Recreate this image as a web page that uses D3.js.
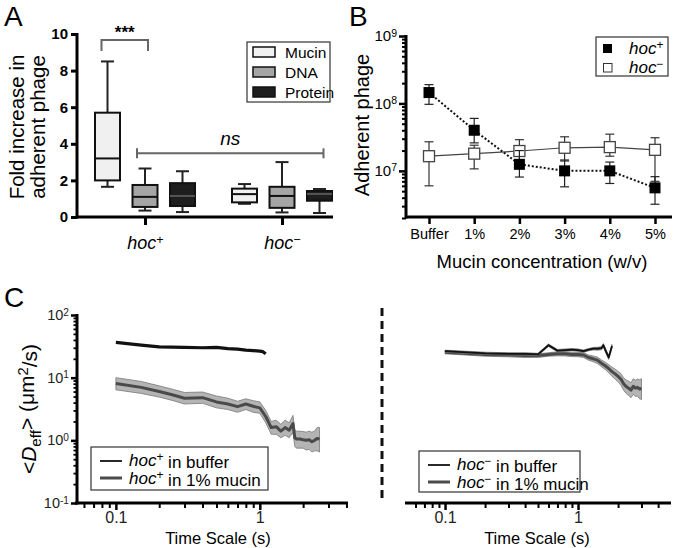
<!DOCTYPE html>
<html><head><meta charset="utf-8">
<script src="https://cdn.jsdelivr.net/npm/d3@7"></script>
<style>body{margin:0;background:#fff} svg{font-family:"Liberation Sans",Arial,Helvetica,sans-serif}</style>
</head><body><svg id="c" width="680" height="548"></svg>
<script>
// ---------- Panel A data ----------
const boxGroups = ["hoc+", "hoc−"];
const boxSeries = ["Mucin", "DNA", "Protein"];
const boxMin = [[1.65, 0.35, 0.27], [0.72, 0.25, 0.22]];
const boxQ1  = [[2.0, 0.55, 0.6],  [0.8, 0.5, 0.89]];
const boxMed = [[3.2, 1.1, 1.15],  [1.25, 1.15, 1.26]];
const boxQ3  = [[5.7, 1.75, 1.85], [1.55, 1.65, 1.42]];
const boxMax = [[8.5, 2.65, 2.5],  [1.8, 3.0, 1.53]];
const aTicks = [0, 2, 4, 6, 8, 10];

// ---------- Panel B data ----------
const concentrations = ["Buffer", "1%", "2%", "3%", "4%", "5%"];
const hocPlusMean  = [1.45e8, 4.0e7, 1.25e7, 1.0e7, 1.0e7, 5.6e6];
const hocPlusLow   = [9.7e7, 2.6e7, 8.1e6, 5.8e6, 6.5e6, 3.2e6];
const hocPlusHigh  = [1.9e8, 6.0e7, 2.0e7, 1.45e7, 1.35e7, 8.2e6];
const hocMinusMean = [1.65e7, 1.8e7, 1.97e7, 2.2e7, 2.25e7, 2.05e7];
const hocMinusLow  = [6.0e6, 1.07e7, 1.4e7, 1.4e7, 1.65e7, 7.0e6];
const hocMinusHigh = [2.7e7, 2.4e7, 2.9e7, 3.2e7, 3.5e7, 3.1e7];
const bMajor = [7, 8, 9];

// ---------- Panel C data ----------
const tPlusBuffer = [0.1, 0.15, 0.2, 0.3, 0.4, 0.5, 0.6, 0.7, 0.8, 0.9, 1.0, 1.05, 1.1];
const dPlusBuffer = [36.5, 33, 31, 30.5, 30, 30.5, 29, 28.5, 27.5, 27, 26.5, 26, 24];
const tPlusMucin = [0.1, 0.15, 0.2, 0.25, 0.3, 0.4, 0.5, 0.6, 0.7, 0.8, 0.9, 1.0, 1.1, 1.2, 1.3, 1.4, 1.5, 1.6, 1.7, 1.75, 1.8, 1.9, 2.0, 2.1, 2.2, 2.3, 2.4, 2.5, 2.6];
const dPlusMucin = [8.1, 7.0, 6.0, 5.3, 4.7, 4.8, 4.1, 3.8, 3.45, 3.8, 3.5, 3.3, 2.4, 1.6, 1.65, 1.4, 1.6, 1.45, 1.85, 1.1, 1.05, 1.05, 1.02, 1.0, 1.02, 0.95, 1.0, 1.07, 1.05];
const loPlusMucin = [6.4, 5.6, 4.9, 4.3, 3.8, 3.9, 3.3, 3.1, 2.8, 3.1, 2.8, 2.7, 1.9, 1.25, 1.25, 1.1, 1.2, 1.1, 1.35, 0.8, 0.75, 0.75, 0.75, 0.7, 0.72, 0.65, 0.68, 0.68, 0.65];
const hiPlusMucin = [10.0, 8.7, 7.4, 6.5, 5.8, 5.9, 5.1, 4.7, 4.2, 4.6, 4.3, 4.1, 3.0, 2.0, 2.1, 1.8, 2.1, 1.9, 2.5, 1.45, 1.4, 1.4, 1.38, 1.35, 1.4, 1.35, 1.4, 1.6, 1.6];

const tMinusBuffer = [0.1, 0.2, 0.3, 0.4, 0.5, 0.6, 0.7, 0.8, 0.9, 1.0, 1.1, 1.2, 1.3, 1.4, 1.5, 1.55, 1.6, 1.7, 1.8];
const dMinusBuffer = [26.5, 24.5, 24, 24, 23.5, 33, 27, 27.5, 28, 27.5, 26.5, 28, 29, 29, 29.5, 33, 28, 21, 32];
const loMinusBuffer = [25.5, 23.5, 23, 23, 22.5, 31.5, 25.8, 26.3, 26.8, 26.3, 25.3, 26.8, 27.7, 27.5, 27.8, 31, 26, 19.5, 30];
const hiMinusBuffer = [27.5, 25.5, 25, 25, 24.5, 34.5, 28.2, 28.7, 29.2, 28.7, 27.7, 29.2, 30.4, 30.5, 31.2, 35, 30, 22.5, 34];
const tMinusMucin = [0.1, 0.2, 0.3, 0.4, 0.5, 0.6, 0.7, 0.8, 0.9, 1.0, 1.1, 1.2, 1.3, 1.4, 1.5, 1.6, 1.7, 1.8, 1.9, 2.0, 2.1, 2.2, 2.3, 2.4, 2.5, 2.6, 2.7, 2.8, 2.9, 3.0];
const dMinusMucin = [25.5, 23.5, 23, 22.5, 22.5, 23.5, 24, 24, 23.5, 23.5, 23, 21, 20, 19, 17, 15.5, 14, 12.5, 11.5, 10.5, 9.5, 8, 7.2, 6.8, 6.3, 7.3, 6.8, 7.0, 6.6, 6.7];
const loMinusMucin = [24, 22, 21.5, 21, 21, 22, 22.3, 22.2, 21.7, 21.6, 21, 19, 18, 16.8, 15, 13.5, 12, 10.5, 9.5, 8.6, 7.6, 6.3, 5.6, 5.2, 4.8, 5.4, 5.0, 5.1, 4.6, 4.5];
const hiMinusMucin = [27, 25, 24.5, 24, 24, 25, 25.8, 25.8, 25.3, 25.4, 25, 23, 22.2, 21.3, 19.2, 17.7, 16.2, 14.7, 13.7, 12.6, 11.6, 10, 9.2, 8.8, 8.3, 9.6, 9.1, 9.5, 9.3, 9.6];

// ---------- styles ----------
const boxFill = {"Mucin": "#f0f0f0", "DNA": "#a5a5a5", "Protein": "#1e1e1e"};
const svg = d3.select("#c");
const FONT = '"Liberation Sans",Arial,Helvetica,sans-serif';

function sup(text, base, exp, italicBase) {
  text.text(null);
  const b = text.append("tspan").text(base);
  if (italicBase) b.attr("font-style", "italic");
  text.append("tspan").attr("dy", "-0.45em").attr("font-size", "0.7em").text(exp);
}
function hocLabel(text, sign, rest) {
  text.text(null);
  text.append("tspan").attr("font-style", "italic").text("hoc");
  text.append("tspan").attr("dy", "-0.45em").attr("font-size", "0.7em").text(sign);
  if (rest) text.append("tspan").attr("dy", "0.45em").text(rest);
}
function styleAxis(g, w) {
  g.select(".domain").remove();
  g.selectAll(".tick line").attr("stroke", "#000").attr("stroke-width", w);
  g.selectAll(".tick text").attr("fill", "#000").attr("font-family", FONT);
}

// Panel letters
[["A", 4, 26], ["B", 349, 26], ["C", 4, 307]].forEach(([t, x, y]) =>
  svg.append("text").attr("x", x).attr("y", y).attr("font-size", 28).text(t));

// ================= Panel A =================
(function () {
  const y = d3.scaleLinear().domain([0, 10]).range([217, 34]);
  const xg = d3.scalePoint().domain(boxGroups).range([145, 282]);
  const xs = d3.scalePoint().domain(boxSeries).range([-37.5, 37.5]);
  const bw = 25, cap = 13;
  const g = svg.append("g");

  boxGroups.forEach((grp, gi) => {
    boxSeries.forEach((s, si) => {
      const cx = xg(grp) + xs(s);
      const bg = g.append("g");
      bg.append("line").attr("x1", cx).attr("x2", cx).attr("y1", y(boxMax[gi][si])).attr("y2", y(boxQ3[gi][si]))
        .attr("stroke", "#222").attr("stroke-width", 2);
      bg.append("line").attr("x1", cx).attr("x2", cx).attr("y1", y(boxMin[gi][si])).attr("y2", y(boxQ1[gi][si]))
        .attr("stroke", "#222").attr("stroke-width", 2);
      [boxMax[gi][si], boxMin[gi][si]].forEach(v =>
        bg.append("line").attr("x1", cx - cap / 2).attr("x2", cx + cap / 2).attr("y1", y(v)).attr("y2", y(v))
          .attr("stroke", "#222").attr("stroke-width", 2));
      bg.append("rect").attr("x", cx - bw / 2).attr("width", bw)
        .attr("y", y(boxQ3[gi][si])).attr("height", y(boxQ1[gi][si]) - y(boxQ3[gi][si]))
        .attr("fill", boxFill[s]).attr("stroke", "#111").attr("stroke-width", 2);
      bg.append("line").attr("x1", cx - bw / 2).attr("x2", cx + bw / 2).attr("y1", y(boxMed[gi][si])).attr("y2", y(boxMed[gi][si]))
        .attr("stroke", s === "Protein" ? "#555" : "#111").attr("stroke-width", 2);
    });
  });

  const ya = g.append("g").attr("transform", "translate(77,0)")
    .call(d3.axisLeft(y).tickValues(aTicks).tickSize(6).tickSizeOuter(0).tickPadding(3));
  styleAxis(ya, 3);
  ya.selectAll(".tick text").attr("font-size", 15).attr("font-weight", "bold");
  const xa = g.append("g").attr("transform", "translate(0,217)")
    .call(d3.axisBottom(xg).tickSize(8).tickPadding(8));
  styleAxis(xa, 3);
  xa.selectAll(".tick text").attr("font-size", 18).attr("dy", "0.9em")
    .each(function (d) { hocLabel(d3.select(this), d === "hoc+" ? "+" : "−"); });
  g.append("line").attr("x1", 77).attr("x2", 333).attr("y1", 217).attr("y2", 217).attr("stroke", "#000").attr("stroke-width", 3);
  g.append("line").attr("x1", 77).attr("x2", 77).attr("y1", 218.5).attr("y2", 33).attr("stroke", "#000").attr("stroke-width", 3);

  const x1 = xg("hoc+") + xs("Mucin") - 6, x2 = xg("hoc+") + xs("DNA") + 3;
  g.append("path").attr("d", `M${x1},${y(9.07)}V${y(9.67)}H${x2}V${y(9.07)}`)
    .attr("fill", "none").attr("stroke", "#666").attr("stroke-width", 2);
  g.append("text").attr("x", (x1 + x2) / 2).attr("y", y(9.67) - 2).attr("text-anchor", "middle")
    .attr("font-size", 17).attr("font-weight", "bold").text("***");
  const n1 = xg("hoc+") + xs("DNA") - 8, n2 = xg("hoc−") + xs("Protein") + 4;
  g.append("line").attr("x1", n1).attr("x2", n2).attr("y1", y(3.48)).attr("y2", y(3.48)).attr("stroke", "#666").attr("stroke-width", 2);
  [n1, n2].forEach(xx => g.append("line").attr("x1", xx).attr("x2", xx).attr("y1", y(3.48) - 5).attr("y2", y(3.48) + 5)
    .attr("stroke", "#666").attr("stroke-width", 2));
  g.append("text").attr("x", (n1 + n2) / 2).attr("y", y(3.48) - 8).attr("text-anchor", "middle")
    .attr("font-size", 19).attr("font-style", "italic").text("ns");

  const lg = g.append("g");
  lg.append("rect").attr("x", 247).attr("y", 42).attr("width", 83).attr("height", 60).attr("fill", "#fff").attr("stroke", "#333").attr("stroke-width", 1.2);
  boxSeries.forEach((s, i) => {
    lg.append("rect").attr("x", 253).attr("y", 47 + i * 20).attr("width", 22).attr("height", 10)
      .attr("fill", boxFill[s]).attr("stroke", "#111").attr("stroke-width", 1.5);
    lg.append("text").attr("x", 285).attr("y", 58 + i * 20).attr("font-size", 15.5).text(s);
  });

  const yl = g.append("text").attr("transform", "translate(24,127) rotate(-90)").attr("text-anchor", "middle").attr("font-size", 20.5);
  yl.append("tspan").attr("x", 0).attr("y", 0).text("Fold increase in");
  yl.append("tspan").attr("x", 0).attr("y", 21).text("adherent phage");
})();

// ================= Panel B =================
(function () {
  const y = d3.scaleLog().domain([2e6, 1e9]).range([218, 36]);
  const x = d3.scalePoint().domain(concentrations).range([429, 655]);
  const g = svg.append("g");

  const minor = [];
  [6, 7, 8].forEach(e => d3.range(2, 10).forEach(m => { const v = m * Math.pow(10, e); if (v >= 2e6 && v < 1e9) minor.push(v); }));
  const ym = g.append("g").attr("transform", "translate(406,0)")
    .call(d3.axisLeft(y).tickValues(minor).tickSize(4).tickFormat(""));
  styleAxis(ym, 2);
  const ya = g.append("g").attr("transform", "translate(406,0)")
    .call(d3.axisLeft(y).tickValues(bMajor.map(e => Math.pow(10, e))).tickSize(7).tickPadding(2));
  styleAxis(ya, 2.5);
  ya.selectAll(".tick text").attr("font-size", 15).each(function (d) { sup(d3.select(this), "10", String(Math.round(Math.log10(d)))); });

  const xa = g.append("g").attr("transform", "translate(0,217)").call(d3.axisBottom(x).tickSize(7).tickPadding(5));
  styleAxis(xa, 2.5);
  xa.selectAll(".tick text").attr("font-size", 14.5);
  g.append("line").attr("x1", 406).attr("x2", 672).attr("y1", 217).attr("y2", 217).attr("stroke", "#000").attr("stroke-width", 3);
  g.append("line").attr("x1", 406).attr("x2", 406).attr("y1", 218.5).attr("y2", 35).attr("stroke", "#000").attr("stroke-width", 3);

  const ln = d3.line().x((d, i) => x(concentrations[i])).y(d => y(d));
  g.append("path").attr("d", ln(hocMinusMean)).attr("fill", "none").attr("stroke", "#444").attr("stroke-width", 1.2);
  g.append("path").attr("d", ln(hocPlusMean)).attr("fill", "none").attr("stroke", "#111").attr("stroke-width", 2).attr("stroke-dasharray", "2,2");
  function errs(lo, hi, col) {
    concentrations.forEach((c, i) => {
      const cx = x(c);
      g.append("line").attr("x1", cx).attr("x2", cx).attr("y1", y(lo[i])).attr("y2", y(hi[i])).attr("stroke", col).attr("stroke-width", 1.2);
      [lo[i], hi[i]].forEach(v => g.append("line").attr("x1", cx - 4.5).attr("x2", cx + 4.5).attr("y1", y(v)).attr("y2", y(v)).attr("stroke", col).attr("stroke-width", 1.2));
    });
  }
  errs(hocMinusLow, hocMinusHigh, "#333");
  concentrations.forEach((c, i) => g.append("rect").attr("x", x(c) - 5.5).attr("y", y(hocMinusMean[i]) - 5.5).attr("width", 11).attr("height", 11)
    .attr("fill", "#fff").attr("stroke", "#444").attr("stroke-width", 1.3));
  errs(hocPlusLow, hocPlusHigh, "#222");
  concentrations.forEach((c, i) => g.append("rect").attr("x", x(c) - 5.5).attr("y", y(hocPlusMean[i]) - 5.5).attr("width", 11).attr("height", 11)
    .attr("fill", "#000"));

  g.append("rect").attr("x", 596).attr("y", 37).attr("width", 72).attr("height", 39).attr("fill", "#fff").attr("stroke", "#333").attr("stroke-width", 1.2);
  g.append("rect").attr("x", 603).attr("y", 44).attr("width", 9).attr("height", 9).attr("fill", "#000");
  g.append("rect").attr("x", 603.5).attr("y", 63.5).attr("width", 8.5).attr("height", 8.5).attr("fill", "#fff").attr("stroke", "#333").attr("stroke-width", 1);
  hocLabel(g.append("text").attr("x", 629).attr("y", 54).attr("font-size", 17), "+");
  hocLabel(g.append("text").attr("x", 629).attr("y", 73).attr("font-size", 17), "−");

  g.append("text").attr("transform", "translate(369,125) rotate(-90)").attr("text-anchor", "middle").attr("font-size", 20).text("Adherent phage");
  g.append("text").attr("x", 542).attr("y", 268).attr("text-anchor", "middle").attr("font-size", 18.5).text("Mucin concentration (w/v)");
})();

// ================= Panel C =================
(function () {
  const y = d3.scaleLog().domain([0.1, 100]).range([503, 315]);
  const xL = d3.scaleLog().domain([0.052, 4.1]).range([75, 348]);
  const xR = d3.scaleLog().domain([0.05, 5]).range([405, 671]);
  const g = svg.append("g");

  const yminor = [];
  [-1, 0, 1].forEach(e => d3.range(2, 10).forEach(m => yminor.push(m * Math.pow(10, e))));
  const ym = g.append("g").attr("transform", "translate(77,0)").call(d3.axisLeft(y).tickValues(yminor).tickSize(3.5).tickFormat(""));
  styleAxis(ym, 1.8);
  const ya = g.append("g").attr("transform", "translate(77,0)").call(d3.axisLeft(y).tickValues([0.1, 1, 10, 100]).tickSize(6).tickPadding(2));
  styleAxis(ya, 2.5);
  ya.selectAll(".tick text").attr("font-size", 14.5).attr("fill", "#222").each(function (d) { sup(d3.select(this), "10", String(Math.round(Math.log10(d)))); });
  g.append("line").attr("x1", 77).attr("x2", 77).attr("y1", 504.5).attr("y2", 314).attr("stroke", "#000").attr("stroke-width", 3);

  function xAxis(xs, x0, x1, mins, labelX) {
    const am = g.append("g").attr("transform", "translate(0,503)").call(d3.axisBottom(xs).tickValues(mins).tickSize(5).tickFormat(""));
    styleAxis(am, 2);
    const aM = g.append("g").attr("transform", "translate(0,503)").call(d3.axisBottom(xs).tickValues([0.1, 1]).tickSize(7).tickPadding(2).tickFormat(d3.format("")));
    styleAxis(aM, 2.5);
    aM.selectAll(".tick text").attr("font-size", 16).attr("fill", "#222");
    g.append("line").attr("x1", x0).attr("x2", x1).attr("y1", 503).attr("y2", 503).attr("stroke", "#000").attr("stroke-width", 3);
    g.append("text").attr("x", labelX).attr("y", 544).attr("text-anchor", "middle").attr("font-size", 16.5).text("Time Scale (s)");
  }
  xAxis(xL, 75, 348, [0.06, 0.07, 0.08, 0.09, 0.2, 0.3, 0.4, 0.5, 0.6, 0.7, 0.8, 0.9, 2, 3, 4], 218);
  xAxis(xR, 405, 671, [0.06, 0.07, 0.08, 0.09, 0.2, 0.3, 0.4, 0.5, 0.6, 0.7, 0.8, 0.9, 2, 3, 4], 537);

  function band(xs, t, lo, hi, fill) {
    const a = d3.area().x((d, i) => xs(t[i])).y0((d, i) => y(lo[i])).y1((d, i) => y(hi[i]));
    g.append("path").attr("d", a(t)).attr("fill", fill).attr("stroke", "#777").attr("stroke-width", 0.8);
  }
  function line(xs, t, v, col, w) {
    const l = d3.line().x((d, i) => xs(t[i])).y((d, i) => y(v[i]));
    g.append("path").attr("d", l(t)).attr("fill", "none").attr("stroke", col).attr("stroke-width", w).attr("stroke-linejoin", "round");
  }
  band(xL, tPlusMucin, loPlusMucin, hiPlusMucin, "#b4b4b4");
  line(xL, tPlusMucin, dPlusMucin, "#4a4a4a", 3);
  line(xL, tPlusBuffer, dPlusBuffer, "#111", 3.2);
  band(xR, tMinusMucin, loMinusMucin, hiMinusMucin, "#b4b4b4");
  line(xR, tMinusMucin, dMinusMucin, "#4a4a4a", 3);
  band(xR, tMinusBuffer, loMinusBuffer, hiMinusBuffer, "#666");
  line(xR, tMinusBuffer, dMinusBuffer, "#111", 1.8);

  function legend(x0, y0, w, h, sign) {
    g.append("rect").attr("x", x0).attr("y", y0).attr("width", w).attr("height", h).attr("fill", "#fff").attr("stroke", "#333").attr("stroke-width", 1.2);
    g.append("line").attr("x1", x0 + 9).attr("x2", x0 + 31).attr("y1", y0 + 14).attr("y2", y0 + 14).attr("stroke", "#111").attr("stroke-width", 1.8);
    g.append("line").attr("x1", x0 + 9).attr("x2", x0 + 31).attr("y1", y0 + 31).attr("y2", y0 + 31).attr("stroke", "#4a4a4a").attr("stroke-width", 3);
    hocLabel(g.append("text").attr("x", x0 + 38).attr("y", y0 + 19).attr("font-size", 17), sign, " in buffer");
    hocLabel(g.append("text").attr("x", x0 + 38).attr("y", y0 + 37).attr("font-size", 17), sign, " in 1% mucin");
  }
  legend(91, 447, 177, 43, "+");
  legend(419, 451, 161, 41, "−");

  g.append("line").attr("x1", 382).attr("x2", 382).attr("y1", 308).attr("y2", 502).attr("stroke", "#111").attr("stroke-width", 3).attr("stroke-dasharray", "8,5");

  const yl = g.append("text").attr("transform", "translate(36,409) rotate(-90)").attr("text-anchor", "middle").attr("font-size", 21);
  yl.append("tspan").text("<");
  yl.append("tspan").attr("font-style", "italic").text("D");
  yl.append("tspan").attr("dy", "0.3em").attr("font-size", "0.72em").text("eff");
  yl.append("tspan").attr("dy", "-0.3em").text("> (μm");
  yl.append("tspan").attr("dy", "-0.45em").attr("font-size", "0.7em").text("2");
  yl.append("tspan").attr("dy", "0.45em").text("/s)");
})();
</script></body></html>
